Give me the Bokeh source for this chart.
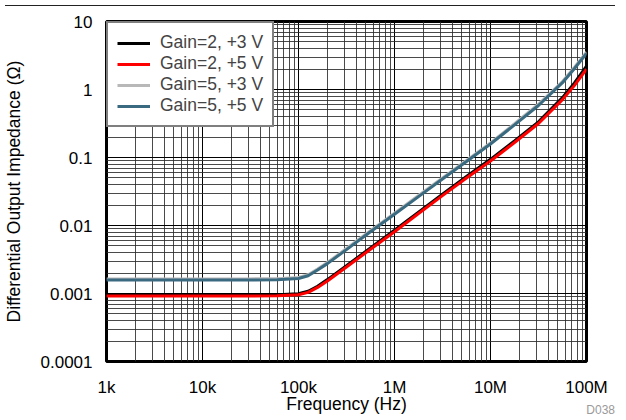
from bokeh.plotting import figure
from bokeh.models import FixedTicker, Legend, LegendItem, Div
from bokeh.layouts import column
from bokeh.embed import file_html
from bokeh.resources import INLINE

# ---- data ----
freq_hz = [1e3, 3e3, 1e4, 3e4, 6e4, 1e5, 1.26e5, 1.58e5, 2e5, 3.16e5, 5.62e5,
           1e6, 1.78e6, 3.16e6, 5.62e6, 1e7, 1.78e7, 3.16e7, 5.62e7, 7.5e7, 1e8]

z_g2_3v = [0.00095, 0.00095, 0.00095, 0.00095, 0.00096, 0.00099, 0.00108, 0.00128,
           0.0016, 0.00256, 0.00468, 0.0085, 0.0157, 0.0288, 0.0525, 0.094, 0.175,
           0.335, 0.76, 1.25, 2.2]
z_g2_5v = [0.00092, 0.00092, 0.00092, 0.00092, 0.00093, 0.00096, 0.00104, 0.00123,
           0.00153, 0.00245, 0.00447, 0.0081, 0.0150, 0.0275, 0.050, 0.089, 0.166,
           0.316, 0.71, 1.15, 2.0]
z_g5_3v = [0.00164, 0.00164, 0.00164, 0.00164, 0.00165, 0.00172, 0.00189, 0.00229,
           0.00285, 0.00458, 0.0084, 0.0151, 0.0276, 0.0502, 0.0903, 0.164, 0.314,
           0.607, 1.31, 2.13, 3.55]
z_g5_5v = [0.00158, 0.00158, 0.00158, 0.00158, 0.00159, 0.00166, 0.00182, 0.00221,
           0.00275, 0.00442, 0.0081, 0.0146, 0.0266, 0.0484, 0.0871, 0.158, 0.302,
           0.582, 1.26, 2.04, 3.4]

series_labels = ["Gain=2, +3 V", "Gain=2, +5 V", "Gain=5, +3 V", "Gain=5, +5 V"]
series_colors = ["#000000", "#ff0000", "#b8b8b8", "#3a6a80"]

x_ticks = [1e3, 1e4, 1e5, 1e6, 1e7, 1e8]
x_tick_labels = ["1k", "10k", "100k", "1M", "10M", "100M"]
y_ticks = [1e-4, 1e-3, 1e-2, 1e-1, 1, 10]
y_tick_labels = ["0.0001", "0.001", "0.01", "0.1", "1", "10"]

FONT = "Liberation Sans"

p = figure(frame_width=480, frame_height=340,
           min_border_left=99, min_border_right=31,
           min_border_top=10, min_border_bottom=49,
           x_axis_type="log", y_axis_type="log",
           x_range=(1e3, 1e8), y_range=(1e-4, 10),
           output_backend="svg", toolbar_location=None)

x_minor = [m * 10 ** k for k in range(3, 8) for m in range(2, 10)]
y_minor = [m * 10.0 ** k for k in range(-4, 1) for m in range(2, 10)]
xt = FixedTicker(ticks=x_ticks, minor_ticks=x_minor)
yt = FixedTicker(ticks=y_ticks, minor_ticks=y_minor)
p.xaxis.ticker = xt
p.yaxis.ticker = yt
p.xgrid.ticker = xt
p.ygrid.ticker = yt

p.xaxis.major_label_overrides = {t: l for t, l in zip(x_ticks, x_tick_labels)}
p.yaxis.major_label_overrides = {t: l for t, l in zip(y_ticks, y_tick_labels)}

for ax in (p.xaxis, p.yaxis):
    ax.axis_line_color = None
    ax.major_tick_line_color = None
    ax.minor_tick_line_color = None
    ax.major_tick_out = 0
    ax.major_tick_in = 0
    ax.major_label_text_font = FONT
    ax.major_label_text_font_size = "17px"
    ax.major_label_text_color = "#000000"
    ax.axis_label_text_font = FONT
    ax.axis_label_text_font_size = "17.5px"
    ax.axis_label_text_font_style = "normal"
    ax.axis_label_text_color = "#000000"

p.xaxis.axis_label = "Frequency (Hz)"
p.yaxis.axis_label = "Differential Output Impedance (Ω)"
p.xaxis.major_label_standoff = 12
p.xaxis.axis_label_standoff = -6
p.yaxis.major_label_standoff = 10
p.yaxis.axis_label_standoff = 14

for g in (p.xgrid, p.ygrid):
    g.grid_line_color = "#000000"
    g.grid_line_width = 1
    g.grid_line_alpha = 1.0
    g.minor_grid_line_color = "#2a2a2a"
    g.minor_grid_line_width = 1
    g.minor_grid_line_alpha = 0.85

p.outline_line_color = "#000000"
p.outline_line_width = 3
p.background_fill_color = "white"
p.border_fill_color = "white"

renderers = []
for z, c in zip([z_g2_3v, z_g2_5v, z_g5_3v, z_g5_5v], series_colors):
    r = p.line(freq_hz, z, line_color=c, line_width=3)
    renderers.append(r)

legend = Legend(items=[LegendItem(label=l, renderers=[r]) for l, r in zip(series_labels, renderers)],
                location="top_left", margin=0, padding=9, spacing=0,
                glyph_width=33, glyph_height=20, label_height=20, label_standoff=10,
                label_text_font=FONT, label_text_font_size="17.5px",
                border_line_color="#000000", border_line_width=2.5,
                background_fill_color="white", background_fill_alpha=1.0)
p.add_layout(legend)

top_rule = Div(text="", width=610, height=1,
               styles={"background-color": "#222222"})

fig_id = Div(text="D038", width=610, height=12,
             styles={"margin-top": "-12px", "text-align": "right", "color": "#9a9a9a",
                     "font-family": FONT, "font-size": "12px", "line-height": "12px"})

layout = column(top_rule, p, fig_id, spacing=0)

open("out.html", "w").write(file_html(layout, INLINE))
